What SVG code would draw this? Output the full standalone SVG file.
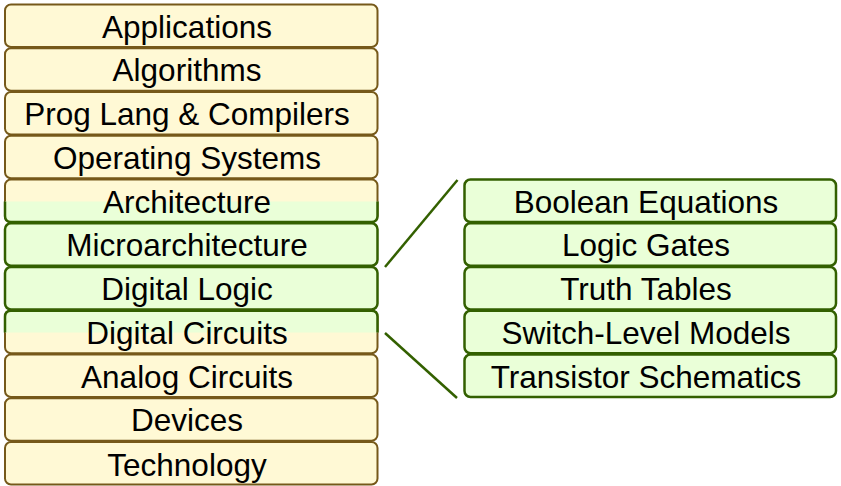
<svg xmlns="http://www.w3.org/2000/svg" width="841" height="486" viewBox="0 0 841 486">
<style>
.y{fill:#fff9d5;stroke:#76591a;stroke-width:2}
.g{fill:#eaffd8;stroke:#336000;stroke-width:2.5}
.gh{fill:#eaffd8;stroke:#336000;stroke-width:2.5}
.c{fill:none;stroke:#336000;stroke-width:2.5}
text{font-family:"Liberation Sans",Arial,Helvetica,sans-serif;font-size:31.5px;fill:#000;text-anchor:middle}
</style>
<rect width="841" height="486" fill="#fff"/>
<g id="connectors">
<line class="c" x1="385" y1="267" x2="457.5" y2="180"/>
<line class="c" x1="385" y1="333" x2="457" y2="398"/>
</g>
<g id="applications"><rect class="y" x="5" y="4.5" width="372.5" height="42.5" rx="6"/><text x="187" y="37.5">Applications</text></g>
<g id="algorithms"><rect class="y" x="5" y="48.25" width="372.5" height="42.5" rx="6"/><text x="187" y="81.25">Algorithms</text></g>
<g id="prog-lang"><rect class="y" x="5" y="92" width="372.5" height="42.5" rx="6"/><text x="187" y="125">Prog Lang &amp; Compilers</text></g>
<g id="operating-systems"><rect class="y" x="5" y="135.75" width="372.5" height="42.5" rx="6"/><text x="187" y="168.75">Operating Systems</text></g>
<g id="architecture"><rect class="y" x="5" y="179.5" width="372.5" height="42.5" rx="6"/><path class="gh" d="M5,201.5 V216 Q5,222 11,222 H371.5 Q377.5,222 377.5,216 V201.5"/><text x="187" y="212.5">Architecture</text></g>
<g id="microarchitecture"><rect class="g" x="5" y="223.25" width="372.5" height="42.5" rx="6"/><text x="187" y="256.25">Microarchitecture</text></g>
<g id="digital-logic"><rect class="g" x="5" y="267" width="372.5" height="42.5" rx="6"/><text x="187" y="300">Digital Logic</text></g>
<g id="digital-circuits"><rect class="y" x="5" y="310.75" width="372.5" height="42.5" rx="6"/><path class="gh" d="M5,332.5 V316.75 Q5,310.75 11,310.75 H371.5 Q377.5,310.75 377.5,316.75 V332.5"/><text x="187" y="343.75">Digital Circuits</text></g>
<g id="analog-circuits"><rect class="y" x="5" y="354.5" width="372.5" height="42.5" rx="6"/><text x="187" y="387.5">Analog Circuits</text></g>
<g id="devices"><rect class="y" x="5" y="398.25" width="372.5" height="42.5" rx="6"/><text x="187" y="431.25">Devices</text></g>
<g id="technology"><rect class="y" x="5" y="442" width="372.5" height="42.5" rx="6"/><text x="187" y="475.5">Technology</text></g>
<g id="boolean-equations"><rect class="g" x="464.5" y="179.5" width="371.5" height="42.5" rx="6"/><text x="646" y="212.5">Boolean Equations</text></g>
<g id="logic-gates"><rect class="g" x="464.5" y="223.25" width="371.5" height="42.5" rx="6"/><text x="646" y="256.25">Logic Gates</text></g>
<g id="truth-tables"><rect class="g" x="464.5" y="267" width="371.5" height="42.5" rx="6"/><text x="646" y="300">Truth Tables</text></g>
<g id="switch-level-models"><rect class="g" x="464.5" y="310.75" width="371.5" height="42.5" rx="6"/><text x="646" y="343.75">Switch-Level Models</text></g>
<g id="transistor-schematics"><rect class="g" x="464.5" y="354.5" width="371.5" height="42.5" rx="6"/><text x="646" y="387.5">Transistor Schematics</text></g>
</svg>
